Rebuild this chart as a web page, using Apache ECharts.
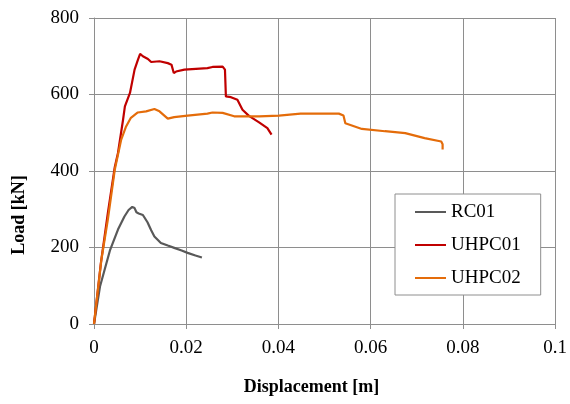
<!DOCTYPE html>
<html>
<head>
<meta charset="utf-8">
<script src="https://cdn.jsdelivr.net/npm/echarts@6/dist/echarts.min.js"></script>
<style>
	html, body { margin: 0; padding: 0; background: #fff; }
	#chart { width: 570px; height: 404px; }
</style>
</head>
<body>
<div id="chart"></div>
<script>
// 荷载-位移曲线 [displacement m, load kN]
var seriesNames = ['RC01', 'UHPC01', 'UHPC02'];
var xTicks = [0, 0.02, 0.04, 0.06, 0.08, 0.1];
var yTicks = [0, 200, 400, 600, 800];

var rc01 = [
	[0, 0], [0.0013, 98], [0.0035, 194], [0.0052, 247], [0.0066, 281], [0.0075, 298],
	[0.0083, 306], [0.0088, 303], [0.0092, 292], [0.0097, 289], [0.0106, 285],
	[0.0116, 266], [0.0124, 245], [0.0131, 229], [0.0145, 212], [0.016, 205],
	[0.0174, 199], [0.019, 192], [0.0203, 186], [0.022, 179], [0.0234, 174]
];
var uhpc01 = [
	[0, 0], [0.0015, 160], [0.003, 290], [0.0045, 410], [0.0052, 447], [0.0063, 534],
	[0.0067, 569], [0.0078, 604], [0.0088, 665], [0.0095, 690], [0.01, 706],
	[0.0106, 700], [0.0117, 693], [0.0124, 685], [0.0142, 687], [0.016, 682],
	[0.0168, 678], [0.0173, 656], [0.0178, 660], [0.0196, 665], [0.0246, 669],
	[0.0257, 672], [0.0279, 673], [0.0284, 665], [0.0286, 595], [0.0297, 593],
	[0.0311, 586], [0.0322, 560], [0.0336, 544], [0.0358, 527], [0.0376, 512],
	[0.0385, 495]
];
var uhpc02 = [
	[0, 0], [0.0016, 168], [0.003, 273], [0.0045, 403], [0.0059, 482], [0.0069, 515],
	[0.008, 539], [0.0095, 553], [0.0113, 556], [0.0131, 562], [0.0142, 556],
	[0.016, 537], [0.0174, 541], [0.0203, 545], [0.0246, 550], [0.0257, 553],
	[0.0279, 552], [0.0304, 543], [0.0358, 543], [0.0401, 545], [0.0448, 550],
	[0.0531, 550], [0.0541, 545], [0.0545, 525], [0.0581, 510], [0.0631, 504],
	[0.0675, 499], [0.0717, 486], [0.0753, 477], [0.0756, 470], [0.0756, 456]
];

var colors = ['#595959', '#C00000', '#E46C0A'];
var gridColor = '#8E8E8E';
var font = '"Liberation Serif", "Times New Roman", serif';

var myChart = echarts.init(document.getElementById('chart'));
var option = {
	backgroundColor: '#fff',
	animation: false,
	color: colors,
	grid: {
		left: 94,
		right: 12,
		top: 18,
		bottom: 80,
		containLabel: false
	},
	legend: {
		orient: 'vertical',
		left: 395,
		top: 194,
		padding: [8, 20, 7, 20],
		itemGap: 13,
		itemWidth: 31,
		itemHeight: 2,
		icon: 'rect',
		borderColor: gridColor,
		borderWidth: 1,
		backgroundColor: '#fff',
		textStyle: {
			fontFamily: font,
			fontSize: 19,
			lineHeight: 20,
			color: '#000'
		},
		data: seriesNames
	},
	xAxis: {
		type: 'value',
		min: xTicks[0],
		max: xTicks[xTicks.length - 1],
		interval: 0.02,
		name: 'Displacement [m]',
		nameLocation: 'middle',
		nameGap: 54,
		nameTextStyle: {
			fontFamily: font,
			fontSize: 18,
			fontWeight: 'bold',
			color: '#000',
			padding: [0, 26, 0, 0]
		},
		axisLine: { lineStyle: { color: gridColor } },
		axisTick: { show: true, length: 5, lineStyle: { color: gridColor } },
		axisLabel: {
			fontFamily: font,
			fontSize: 19,
			color: '#000',
			margin: 15
		},
		splitLine: { show: true, lineStyle: { color: gridColor } }
	},
	yAxis: {
		type: 'value',
		min: yTicks[0],
		max: yTicks[yTicks.length - 1],
		interval: 200,
		name: 'Load [kN]',
		nameLocation: 'middle',
		nameRotate: 90,
		nameGap: 66,
		nameTextStyle: {
			fontFamily: font,
			fontSize: 18,
			fontWeight: 'bold',
			color: '#000',
			padding: [0, 88, 0, 0]
		},
		axisLine: { show: true, lineStyle: { color: gridColor } },
		axisTick: { show: true, length: 5, lineStyle: { color: gridColor } },
		axisLabel: {
			fontFamily: font,
			fontSize: 19,
			color: '#000',
			margin: 15
		},
		splitLine: { show: true, lineStyle: { color: gridColor } }
	},
	series: [{
		name: seriesNames[0],
		type: 'line',
		data: rc01,
		showSymbol: false,
		lineStyle: { width: 2.2, color: colors[0] }
	}, {
		name: seriesNames[1],
		type: 'line',
		data: uhpc01,
		showSymbol: false,
		lineStyle: { width: 2.2, color: colors[1] }
	}, {
		name: seriesNames[2],
		type: 'line',
		data: uhpc02,
		showSymbol: false,
		lineStyle: { width: 2.2, color: colors[2] }
	}]
};
myChart.setOption(option);
</script>
</body>
</html>
